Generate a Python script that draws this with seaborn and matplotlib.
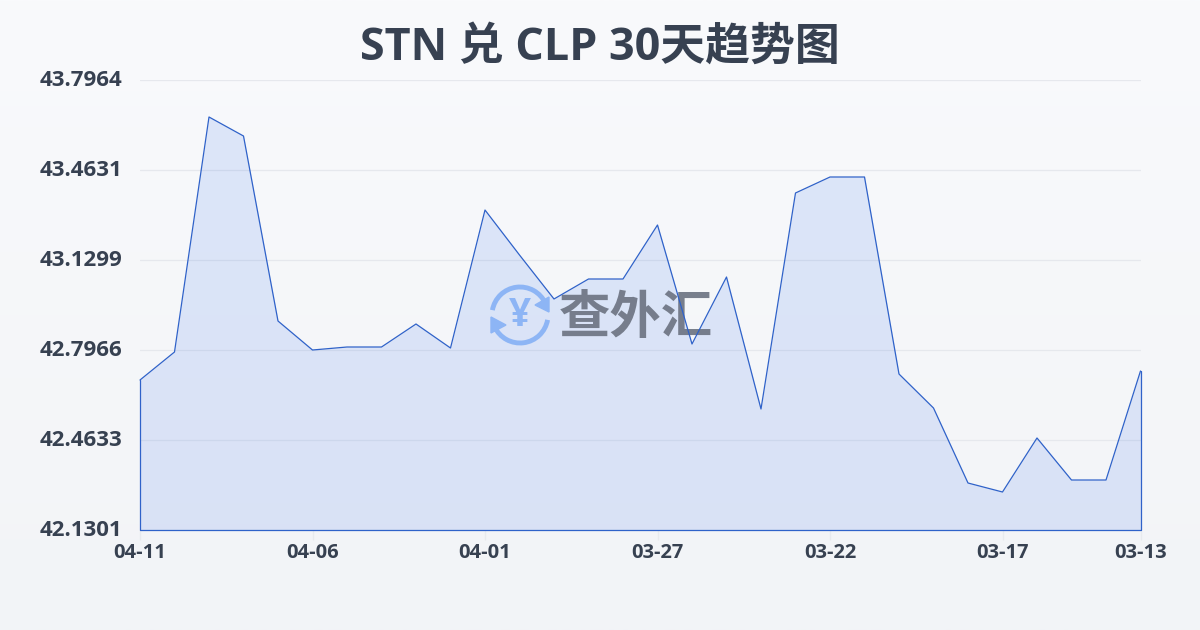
import numpy as np
import matplotlib
matplotlib.use("Agg")
import matplotlib.pyplot as plt
import seaborn as sns
from matplotlib.patches import Arc, Polygon
from matplotlib.transforms import Affine2D, ScaledTranslation

dates = ["04-11", "04-10", "04-09", "04-08", "04-07", "04-06", "04-05", "04-04", "04-03", "04-02",
         "04-01", "03-31", "03-30", "03-29", "03-28", "03-27", "03-26", "03-25", "03-24", "03-23",
         "03-22", "03-21", "03-20", "03-19", "03-18", "03-17", "03-16", "03-15", "03-14", "03-13"]
rates = [42.6855, 42.7892, 43.6594, 43.5890, 42.9040, 42.7966, 42.8077, 42.8077, 42.8929, 42.8040,
         43.3150, 43.1484, 42.9855, 43.0595, 43.0595, 43.2595, 42.8188, 43.0669, 42.5781, 43.3780,
         43.4372, 43.4372, 42.7077, 42.5818, 42.3041, 42.2708, 42.4708, 42.3152, 42.3152, 42.7189]
y_ticks = [42.1301, 42.4633, 42.7966, 43.1299, 43.4631, 43.7964]
y_labels = ["42.1301", "42.4633", "42.7966", "43.1299", "43.4631", "43.7964"]
x_tick_idx = [0, 5, 10, 15, 20, 25, 29]

TEXT = "#374151"
LINE = "#2f62c9"
BLUE = "#8db5f5"

sns.set_theme(style="white")
plt.rcParams["font.family"] = ["Open Sans", "Noto Sans CJK SC", "DejaVu Sans"]

fig = plt.figure(figsize=(12, 6.3), dpi=100)

# fondo con degradado vertical
bg = fig.add_axes([0, 0, 1, 1], zorder=0)
bg.imshow(np.linspace(0, 1, 256).reshape(-1, 1), aspect="auto", extent=[0, 1, 0, 1],
          cmap=matplotlib.colors.LinearSegmentedColormap.from_list("bg", ["#f9fafc", "#f2f4f7"]))
bg.axis("off")

ax = fig.add_axes([140 / 1200, 1 - 530 / 630, 1000.5 / 1200, 450 / 630], zorder=1)
ax.patch.set_alpha(0)

x = np.arange(len(rates))
ax.fill_between(x, rates, y_ticks[0], facecolor="#2563eb", alpha=0.125, linewidth=0, zorder=3)
sns.lineplot(x=x, y=rates, color=LINE, linewidth=0.9, ax=ax, zorder=6, errorbar=None, sort=False)
ax.lines[0].set_clip_on(False)
# borde inferior y laterales del area
ax.plot([0, 0, 29, 29], [rates[0], y_ticks[0], y_ticks[0], rates[-1]], color=LINE, lw=0.9,
        zorder=6, clip_on=False)

ax.set_xlim(0, 29)
ax.set_ylim(y_ticks[0], y_ticks[-1])
ax.set_xticks(x_tick_idx)
ax.set_xticklabels([dates[i] for i in x_tick_idx], fontsize=14.5, fontweight="bold", color=TEXT)
ax.set_yticks(y_ticks)
ax.set_yticklabels(y_labels, fontsize=16, fontweight="bold", color=TEXT)
ax.tick_params(axis="x", length=7, width=1, color="#e8eaee", pad=2.5, bottom=True)
ax.tick_params(axis="y", length=0, pad=13)
ax.grid(axis="y", color="#e6e8ed", linewidth=0.9)
ax.set_axisbelow(True)
sns.despine(ax=ax, left=True, bottom=True)

# las etiquetas del eje y van 2 px por encima de la rejilla
shift = ScaledTranslation(0, 2 / 100, fig.dpi_scale_trans)
for lab in ax.get_yticklabels():
    lab.set_transform(lab.get_transform() + shift)

fig.text(0.5, 1 - 48 / 630, "STN 兑 CLP 30天趋势图", ha="center", va="center",
         fontsize=32.3, fontweight="bold", color=TEXT)

# marca de agua en coordenadas de pixel
px = Affine2D().scale(1 / 1200, -1 / 630).translate(0, 1) + fig.transFigure
ax.text(636, 320, "查外汇", transform=px, ha="center", va="center", fontsize=37,
        fontweight="bold", color="#6b7280", alpha=0.9, zorder=5)
ax.text(520, 316, "¥", transform=px, ha="center", va="center", fontsize=28,
        fontweight="bold", color=BLUE, zorder=5)
for t1, t2 in [(190, 335), (10, 155)]:
    ax.add_patch(Arc((520, 315), 56, 56, theta1=t1, theta2=t2, transform=px, color=BLUE, lw=3.5,
                     zorder=5, clip_on=False))
ax.add_patch(Polygon([[549, 297], [549, 312], [535, 305]], closed=True, transform=px, color=BLUE, zorder=5))
ax.add_patch(Polygon([[491, 317], [491, 333], [506, 325]], closed=True, transform=px, color=BLUE, zorder=5))

fig.savefig("out.png", dpi=100)
